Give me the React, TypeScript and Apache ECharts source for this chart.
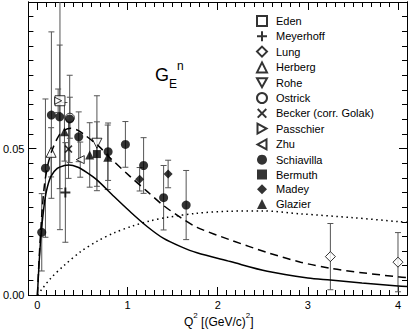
import React, { useEffect, useRef } from "react";
import * as echarts from "echarts";

// ---- tick values ----
const xMajorTicks = [0, 1, 2, 3, 4];
const xMinorTicks = Array.from({ length: 42 }, (_, i) => +(i * 0.1).toFixed(1));
const yLabelTicks = [0, 0.05];
const yMajorTicks = [0, 0.05, 0.1];
const yMinorTicks = Array.from({ length: 21 }, (_, i) => +(i * 0.005).toFixed(3));

// ---- data: [Q2, GEn, error] ----
const eden = [[0.25, 0.0663, 0.044]];
const meyerhoff = [[0.31, 0.035, 0.017]];
const lung = [[3.25, 0.0131, 0.0113], [4.0, 0.0112, 0.0101]];
const herberg = [[0.152, 0.0487, 0.0084]];
const rohe = [[0.66, 0.0518, 0.0162]];
const ostrick = [[0.36, 0.0605, 0.007]];
const becker = [[0.345, 0.0498, 0.01]];
const passchier = [[0.23, 0.0663, 0.004]];
const zhu = [[0.475, 0.0462, 0.006]];
const schiavilla = [
  [0.048, 0.0214, 0.0132],
  [0.089, 0.0433, 0.0236],
  [0.155, 0.0614, 0.0284],
  [0.247, 0.0608, 0.0245],
  [0.358, 0.0601, 0.0149],
  [0.458, 0.054, 0.0085],
  [0.784, 0.0489, 0.0098],
  [0.976, 0.0514, 0.0078],
  [1.178, 0.0442, 0.0095],
  [1.4, 0.0332, 0.011],
  [1.65, 0.0307, 0.0118],
];
const bermuth = [[0.66, 0.0481, 0.011]];
const madey = [[1.134, 0.0395, 0.004], [1.45, 0.0413, 0.0047]];
const glazier = [[0.3, 0.0557, 0.01], [0.58, 0.0478, 0.011], [0.78, 0.047, 0.011]];

// ---- theory curves: [Q2, GEn] ----
const solidCurve = [
  [0, 0], [0.01, 0.006], [0.02, 0.0115], [0.04, 0.0205], [0.07, 0.0295], [0.1, 0.0355],
  [0.15, 0.0405], [0.22, 0.0432], [0.3, 0.0442], [0.35, 0.0444], [0.45, 0.0436],
  [0.55, 0.0418], [0.66, 0.0393], [0.85, 0.0336], [1.03, 0.0284], [1.22, 0.0233],
  [1.4, 0.0193], [1.59, 0.0165], [1.77, 0.0144], [2.14, 0.0114], [2.55, 0.0081],
  [3.0, 0.0058], [3.25, 0.0051], [3.6, 0.0041], [4.0, 0.0031], [4.1, 0.0029],
];
const dashedCurve = [
  [0, 0], [0.02, 0.013], [0.05, 0.028], [0.08, 0.038], [0.12, 0.045], [0.17, 0.05],
  [0.24, 0.0545], [0.3, 0.0563], [0.37, 0.0569], [0.45, 0.0562], [0.53, 0.0545],
  [0.68, 0.0508], [0.81, 0.0467], [1.03, 0.0404], [1.22, 0.0353], [1.4, 0.0305],
  [1.59, 0.0264], [1.77, 0.0231], [2.14, 0.0188], [2.55, 0.0145], [2.92, 0.0112],
  [3.25, 0.0091], [3.6, 0.0076], [4.0, 0.0062], [4.1, 0.0059],
];
const dottedCurve = [
  [0, 0], [0.05, 0.002], [0.15, 0.0058], [0.3, 0.0102], [0.48, 0.0148], [0.66, 0.0183],
  [0.85, 0.0212], [1.05, 0.0235], [1.25, 0.0253], [1.44, 0.0265], [1.77, 0.0279],
  [2.14, 0.0286], [2.5, 0.0287], [2.92, 0.0277], [3.5, 0.0264], [4.02, 0.025], [4.1, 0.0248],
];

const FONT = "Liberation Sans, Arial, Helvetica, sans-serif";
const PLUS = "path://M4,0H6V4H10V6H6V10H4V6H0V4H4Z";
const CROSS = "path://M0,1.4L1.4,0L5,3.6L8.6,0L10,1.4L6.4,5L10,8.6L8.6,10L5,6.4L1.4,10L0,8.6L3.6,5Z";
const TRI_DOWN = "path://M0,0L10,0L5,9Z";
const TRI_LEFT = "path://M9,0L9,10L0,5Z";
const TRI_RIGHT = "path://M0,0L0,10L9,5Z";

const openStyle = { color: "#fff", borderColor: "#000", borderWidth: 1 };
const fillStyle = { color: "#000" };

const markerDefs: any[] = [
  { name: "Eden", data: eden, symbol: "rect", size: 10, style: openStyle },
  { name: "Meyerhoff", data: meyerhoff, symbol: PLUS, size: 10, style: fillStyle },
  { name: "Lung", data: lung, symbol: "diamond", size: 10, style: openStyle },
  { name: "Herberg", data: herberg, symbol: "triangle", size: 10, style: openStyle },
  { name: "Rohe", data: rohe, symbol: TRI_DOWN, size: 10, style: openStyle },
  { name: "Ostrick", data: ostrick, symbol: "circle", size: 9, style: openStyle },
  { name: "Becker (corr. Golak)", data: becker, symbol: CROSS, size: 8, style: fillStyle },
  { name: "Passchier", data: passchier, symbol: TRI_RIGHT, size: 7, style: openStyle },
  { name: "Zhu", data: zhu, symbol: TRI_LEFT, size: 8, style: openStyle },
  { name: "Schiavilla", data: schiavilla, symbol: "circle", size: 9, style: fillStyle },
  { name: "Bermuth", data: bermuth, symbol: "rect", size: 8, style: fillStyle },
  { name: "Madey", data: madey, symbol: "diamond", size: 9, style: fillStyle },
  { name: "Glazier", data: glazier, symbol: "triangle", size: 9, style: fillStyle },
];

function buildOption(): any {
  const errData: number[][] = [];
  markerDefs.forEach((m) => m.data.forEach((d: number[]) => errData.push([d[0], d[1] - d[2], d[1] + d[2]])));

  const errSeries = {
    type: "custom",
    name: "errors",
    clip: true,
    silent: true,
    data: errData,
    encode: { x: 0, y: [1, 2] },
    renderItem: (_p: any, api: any) => {
      const x = api.value(0);
      const a = api.coord([x, api.value(1)]);
      const b = api.coord([x, api.value(2)]);
      const w = 3;
      const st = { stroke: "#555", lineWidth: 1 };
      return {
        type: "group",
        children: [
          { type: "line", shape: { x1: a[0], y1: a[1], x2: b[0], y2: b[1] }, style: st },
          { type: "line", shape: { x1: a[0] - w, y1: a[1], x2: a[0] + w, y2: a[1] }, style: st },
          { type: "line", shape: { x1: b[0] - w, y1: b[1], x2: b[0] + w, y2: b[1] }, style: st },
        ],
      };
    },
  };

  const lineSeries = (data: number[][], type: any, name: string) => ({
    type: "line",
    name,
    data,
    showSymbol: false,
    smooth: 0.3,
    clip: true,
    silent: true,
    lineStyle: { color: "#000", width: 1.5, type },
  });

  const scatterSeries = markerDefs.map((m) => ({
    type: "scatter",
    name: m.name,
    data: m.data.map((d: number[]) => [d[0], d[1]]),
    symbol: m.symbol,
    symbolSize: m.size,
    itemStyle: m.style,
    silent: true,
  }));

  const axisCommon = {
    type: "value",
    splitLine: { show: false },
    axisLine: { show: true, onZero: false, lineStyle: { color: "#000", width: 1 } },
  };
  const mkX = (pos: string, ticks: number[], len: number, labels: boolean) => ({
    ...axisCommon,
    position: pos,
    min: -0.1,
    max: 4.1,
    axisTick: { show: true, inside: true, length: len, customValues: ticks, lineStyle: { color: "#000" } },
    axisLabel: labels
      ? { show: true, customValues: xMajorTicks, margin: 4, color: "#000", fontSize: 11, fontFamily: FONT, formatter: (v: number) => String(v) }
      : { show: false },
  });
  const mkY = (pos: string, ticks: number[], len: number, labels: boolean) => ({
    ...axisCommon,
    position: pos,
    min: 0,
    max: 0.1,
    axisTick: { show: true, inside: true, length: len, customValues: ticks, lineStyle: { color: "#000" } },
    axisLabel: labels
      ? { show: true, customValues: yLabelTicks, margin: 4, color: "#000", fontSize: 11, fontFamily: FONT, formatter: (v: number) => v.toFixed(2) }
      : { show: false },
  });

  return {
    animation: false,
    backgroundColor: "#fff",
    grid: { left: 28, right: 2, top: 2, bottom: 34 },
    xAxis: [
      mkX("bottom", xMajorTicks, 8, true),
      mkX("bottom", xMinorTicks, 5, false),
      mkX("top", xMajorTicks, 8, false),
      mkX("top", xMinorTicks, 5, false),
    ],
    yAxis: [
      mkY("left", yMajorTicks, 8, true),
      mkY("left", yMinorTicks, 5, false),
      mkY("right", yMajorTicks, 8, false),
      mkY("right", yMinorTicks, 5, false),
    ],
    legend: {
      orient: "vertical",
      left: 251,
      top: 10,
      itemWidth: 10,
      itemHeight: 10,
      itemGap: 3.8,
      selectedMode: false,
      data: markerDefs.map((m) => m.name),
      textStyle: { color: "#000", fontSize: 11, lineHeight: 11, fontFamily: FONT, padding: [0, 0, 0, 4] },
    },
    graphic: [
      {
        type: "text",
        x: 155,
        y: 75,
        style: {
          text: "{g|G}{e|E}{n|n}",
          verticalAlign: "middle",
          fill: "#000",
          rich: {
            g: { fontSize: 18, lineHeight: 30, fontFamily: FONT, fill: "#000" },
            e: { fontSize: 12, lineHeight: 14, verticalAlign: "bottom", fontFamily: FONT, fill: "#000" },
            n: { fontSize: 12, lineHeight: 9, verticalAlign: "top", fontFamily: FONT, fill: "#000" },
          },
        },
      },
      {
        type: "text",
        x: 184,
        y: 321.5,
        style: {
          text: "{q|Q}{s|2}{q| [(GeV/c)}{s|2}{q|]}",
          verticalAlign: "middle",
          fill: "#000",
          rich: {
            q: { fontSize: 12, lineHeight: 20, fontFamily: FONT, fill: "#000" },
            s: { fontSize: 8, lineHeight: 8, verticalAlign: "top", fontFamily: FONT, fill: "#000" },
          },
        },
      },
    ],
    series: [
      errSeries,
      lineSeries(dottedCurve, [1.5, 3.5], "dotted"),
      lineSeries(dashedCurve, [8, 5], "dashed"),
      lineSeries(solidCurve, "solid", "solid"),
      ...scatterSeries,
    ],
  };
}

export default function App() {
  const ref = useRef<HTMLDivElement>(null);
  useEffect(() => {
    if (!ref.current) return;
    const chart = echarts.init(ref.current, null, { renderer: "svg" });
    chart.setOption(buildOption());
    return () => chart.dispose();
  }, []);
  return <div ref={ref} style={{ width: 409, height: 329, position: "fixed", left: 0, top: 0 }} />;
}
